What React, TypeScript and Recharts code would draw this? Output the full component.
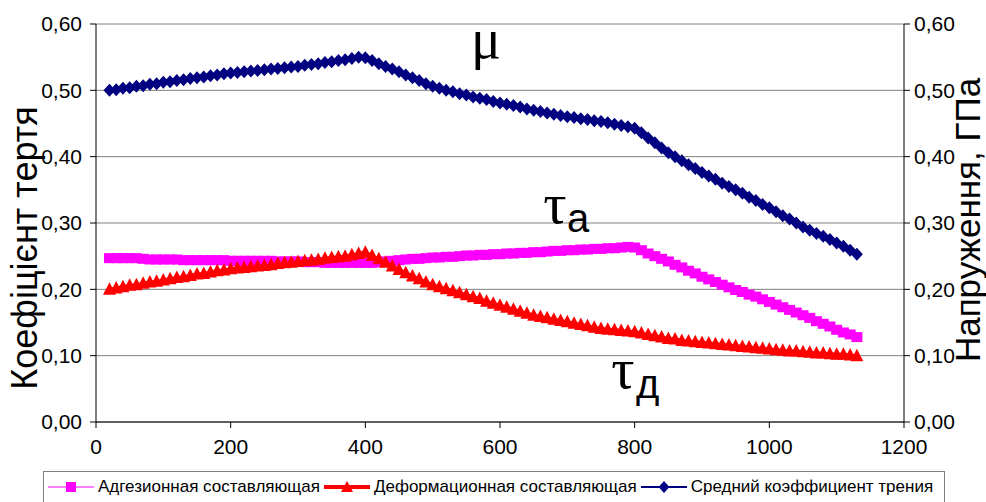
import { LineChart, Line, XAxis, YAxis, CartesianGrid } from 'recharts'

// sliding distance (x axis)
const xValues = [
  20, 30, 40, 50, 60, 70, 80, 90, 100, 110,
  120, 130, 140, 150, 160, 170, 180, 190, 200, 210,
  220, 230, 240, 250, 260, 270, 280, 290, 300, 310,
  320, 330, 340, 350, 360, 370, 380, 390, 400, 410,
  420, 430, 440, 450, 460, 470, 480, 490, 500, 510,
  520, 530, 540, 550, 560, 570, 580, 590, 600, 610,
  620, 630, 640, 650, 660, 670, 680, 690, 700, 710,
  720, 730, 740, 750, 760, 770, 780, 790, 800, 810,
  820, 830, 840, 850, 860, 870, 880, 890, 900, 910,
  920, 930, 940, 950, 960, 970, 980, 990, 1000, 1010,
  1020, 1030, 1040, 1050, 1060, 1070, 1080, 1090, 1100, 1110,
  1120, 1130,
]

// Средний коэффициент трения (μ), left axis
const muValues = [
  0.500, 0.501, 0.503, 0.504, 0.506, 0.507, 0.509, 0.510, 0.512, 0.513,
  0.515, 0.516, 0.518, 0.519, 0.520, 0.522, 0.523, 0.525, 0.526, 0.527,
  0.528, 0.529, 0.530, 0.531, 0.532, 0.533, 0.534, 0.535, 0.536, 0.538,
  0.539, 0.540, 0.542, 0.543, 0.545, 0.546, 0.548, 0.550, 0.549, 0.545,
  0.540, 0.536, 0.532, 0.528, 0.523, 0.519, 0.515, 0.510, 0.506, 0.503,
  0.500, 0.498, 0.495, 0.493, 0.490, 0.488, 0.486, 0.483, 0.481, 0.479,
  0.477, 0.475, 0.472, 0.470, 0.468, 0.466, 0.464, 0.462, 0.460, 0.459,
  0.457, 0.456, 0.454, 0.453, 0.451, 0.449, 0.447, 0.445, 0.443, 0.436,
  0.428, 0.421, 0.413, 0.406, 0.400, 0.394, 0.388, 0.382, 0.376, 0.371,
  0.366, 0.360, 0.355, 0.350, 0.345, 0.339, 0.334, 0.328, 0.323, 0.317,
  0.311, 0.306, 0.300, 0.294, 0.289, 0.284, 0.280, 0.275, 0.270, 0.265,
  0.259, 0.253,
]

// Адгезионная составляющая (τа), GPa, right axis
const tauAValues = [
  0.247, 0.247, 0.247, 0.247, 0.247, 0.246, 0.245, 0.245, 0.245, 0.245,
  0.245, 0.244, 0.244, 0.244, 0.244, 0.244, 0.244, 0.244, 0.243, 0.243,
  0.243, 0.243, 0.243, 0.243, 0.243, 0.242, 0.242, 0.242, 0.242, 0.241,
  0.241, 0.241, 0.240, 0.240, 0.240, 0.240, 0.240, 0.240, 0.240, 0.240,
  0.241, 0.242, 0.243, 0.244, 0.245, 0.246, 0.246, 0.247, 0.248, 0.248,
  0.249, 0.249, 0.250, 0.251, 0.251, 0.252, 0.252, 0.253, 0.253, 0.254,
  0.254, 0.255, 0.255, 0.256, 0.256, 0.257, 0.258, 0.258, 0.259, 0.259,
  0.260, 0.260, 0.261, 0.261, 0.262, 0.262, 0.263, 0.264, 0.263, 0.259,
  0.254, 0.250, 0.246, 0.242, 0.237, 0.233, 0.228, 0.224, 0.219, 0.215,
  0.211, 0.207, 0.203, 0.199, 0.196, 0.192, 0.189, 0.185, 0.181, 0.177,
  0.173, 0.169, 0.165, 0.161, 0.157, 0.152, 0.148, 0.144, 0.139, 0.135,
  0.132, 0.128,
]

// Деформационная составляющая (τд), GPa, right axis
const tauDValues = [
  0.200, 0.202, 0.204, 0.206, 0.207, 0.209, 0.211, 0.212, 0.214, 0.216,
  0.218, 0.219, 0.221, 0.223, 0.224, 0.226, 0.228, 0.229, 0.231, 0.232,
  0.233, 0.234, 0.235, 0.236, 0.237, 0.239, 0.240, 0.241, 0.242, 0.243,
  0.244, 0.245, 0.247, 0.248, 0.249, 0.250, 0.252, 0.254, 0.256, 0.251,
  0.246, 0.241, 0.235, 0.230, 0.225, 0.220, 0.216, 0.211, 0.207, 0.204,
  0.201, 0.198, 0.195, 0.192, 0.189, 0.186, 0.182, 0.179, 0.176, 0.173,
  0.170, 0.167, 0.164, 0.161, 0.159, 0.157, 0.155, 0.153, 0.151, 0.149,
  0.147, 0.145, 0.143, 0.141, 0.140, 0.139, 0.138, 0.137, 0.136, 0.134,
  0.132, 0.130, 0.128, 0.126, 0.125, 0.123, 0.122, 0.121, 0.120, 0.119,
  0.118, 0.117, 0.116, 0.115, 0.114, 0.113, 0.112, 0.111, 0.110, 0.109,
  0.108, 0.107, 0.107, 0.106, 0.105, 0.104, 0.104, 0.103, 0.102, 0.102,
  0.101, 0.100,
]

const xTicks = [0, 200, 400, 600, 800, 1000, 1200]
const yTicks = [0, 0.1, 0.2, 0.3, 0.4, 0.5, 0.6]

const seriesNames = {
  tauA: 'Адгезионная составляющая',
  tauD: 'Деформационная составляющая',
  mu:   'Средний коэффициент трения',
}

const MAGENTA = '#ff00ff'
const RED     = '#ff0000'
const NAVY    = '#000080'
const FONT    = '"Liberation Sans", Arial, sans-serif'
const SERIF   = '"Liberation Serif", "Times New Roman", serif'

const data = xValues.map((x, i) => ({
  x,
  tauA: tauAValues[i],
  tauD: tauDValues[i],
  mu:   muValues[i],
}))

const fmt = (v: number) => v.toFixed(2).replace('.', ',')

const squareDot = (p: any) => {
  if (p.cx == null || p.cy == null) return <g key={`s-${p.index}`} />
  return <rect key={`s-${p.index}`} x={p.cx - 5.5} y={p.cy - 5} width={11} height={10} fill={MAGENTA} />
}

const triangleDot = (p: any) => {
  if (p.cx == null || p.cy == null) return <g key={`t-${p.index}`} />
  const { cx, cy } = p
  return <path key={`t-${p.index}`} d={`M${cx},${cy - 7} L${cx + 6.5},${cy + 5.5} L${cx - 6.5},${cy + 5.5} Z`} fill={RED} />
}

const diamondDot = (p: any) => {
  if (p.cx == null || p.cy == null) return <g key={`d-${p.index}`} />
  const { cx, cy } = p
  return <path key={`d-${p.index}`} d={`M${cx},${cy - 6.5} L${cx + 6},${cy} L${cx},${cy + 6.5} L${cx - 6},${cy} Z`} fill={NAVY} />
}

const LegendItem = ({ color, width, marker, label }: { color: string; width: number; marker: string; label: string }) => (
  <div style={{ display: 'flex', alignItems: 'center', marginRight: 4 }}>
    <svg width={46} height={14}>
      <line x1={0} y1={7} x2={46} y2={7} stroke={color} strokeWidth={width} />
      {marker === 'square' && <rect x={18} y={2} width={10} height={10} fill={color} />}
      {marker === 'triangle' && <path d="M23,1 L29,12 L17,12 Z" fill={color} />}
      {marker === 'diamond' && <path d="M23,1 L28.5,7 L23,13 L17.5,7 Z" fill={color} />}
    </svg>
    <span style={{ marginLeft: 4 }}>{label}</span>
  </div>
)

const tickStyle = { fontSize: 21, fill: '#000', fontFamily: FONT }

const App = () => {
  return (
    <div style={{ position: 'absolute', left: 0, top: 0, width: 986, height: 502, background: '#fff', fontFamily: FONT }}>
      <LineChart width={986} height={460} data={data} margin={{ top: 24, right: 0, bottom: 0, left: 0 }}>
        <CartesianGrid vertical={false} stroke="#808080" />
        <XAxis
          dataKey="x"
          type="number"
          domain={[0, 1200]}
          ticks={xTicks}
          height={38}
          tick={tickStyle}
          stroke="#000"
          tickSize={6}
          tickMargin={11}
        />
        <YAxis
          domain={[0, 0.6]}
          ticks={yTicks}
          width={96}
          tickFormatter={fmt}
          tick={tickStyle}
          stroke="#000"
          tickSize={6}
          tickMargin={8}
        />
        <YAxis
          yAxisId="right"
          orientation="right"
          domain={[0, 0.6]}
          ticks={yTicks}
          width={82}
          tickFormatter={fmt}
          tick={tickStyle}
          stroke="#000"
          tickSize={6}
          tickMargin={4}
        />
        <Line yAxisId="right" dataKey="tauA" name={seriesNames.tauA} stroke={MAGENTA} strokeWidth={1} dot={squareDot} isAnimationActive={false} />
        <Line yAxisId="right" dataKey="tauD" name={seriesNames.tauD} stroke={RED} strokeWidth={3} dot={triangleDot} isAnimationActive={false} />
        <Line dataKey="mu" name={seriesNames.mu} stroke={NAVY} strokeWidth={2} dot={diamondDot} isAnimationActive={false} />
      </LineChart>

      <svg width={986} height={502} style={{ position: 'absolute', left: 0, top: 0, pointerEvents: 'none' }}>
        <text transform="translate(37,248) rotate(-90)" textAnchor="middle" fontSize={36} fontFamily={FONT} fill="#000">
          Коефіцієнт тертя
        </text>
        <text transform="translate(980,220) rotate(-90)" textAnchor="middle" fontSize={35} fontFamily={FONT} fill="#000">
          Напруження, ГПа
        </text>
        <text x={486} y={58} textAnchor="middle" fontSize={56} fontFamily={SERIF} fill="#000">μ</text>
        <text x={555} y={223} textAnchor="middle" fontSize={58} fontFamily={SERIF} fill="#000">τ</text>
        <text x={567} y={232} fontSize={40} fontFamily={FONT} fill="#000">а</text>
        <text x={623} y={388} textAnchor="middle" fontSize={58} fontFamily={SERIF} fill="#000">τ</text>
        <text x={636} y={398} fontSize={40} fontFamily={FONT} fill="#000">д</text>
      </svg>

      <div
        style={{
          position: 'absolute',
          left: 43,
          top: 471,
          width: 902,
          height: 32,
          border: '1px solid #808080',
          boxSizing: 'border-box',
          display: 'flex',
          alignItems: 'center',
          paddingLeft: 4,
          fontSize: 17,
          color: '#000',
          whiteSpace: 'nowrap',
        }}
      >
        <LegendItem color={MAGENTA} width={1} marker="square" label={seriesNames.tauA} />
        <LegendItem color={RED} width={4} marker="triangle" label={seriesNames.tauD} />
        <LegendItem color={NAVY} width={2} marker="diamond" label={seriesNames.mu} />
      </div>
    </div>
  )
}

export default App
